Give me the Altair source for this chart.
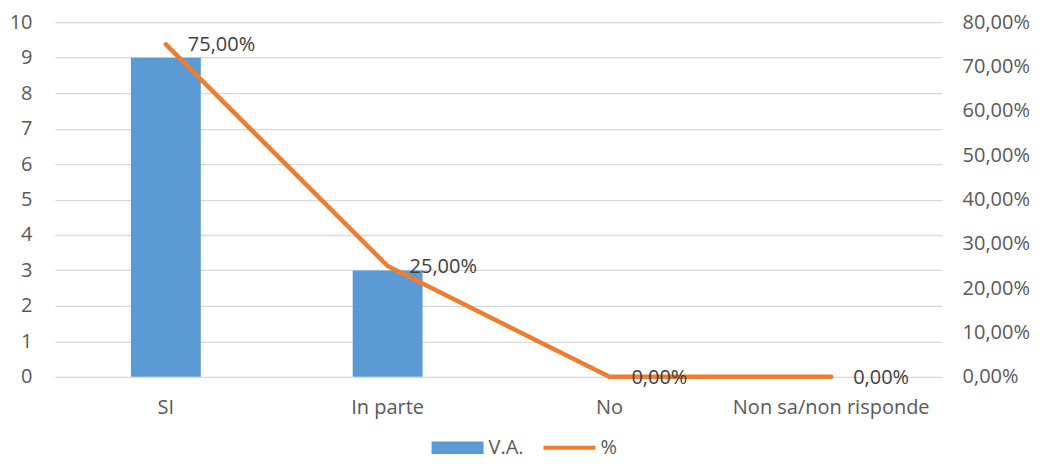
import altair as alt
import pandas as pd

categories = ["SI", "In parte", "No", "Non sa/non risponde"]
va_values = [9, 3, 0, 0]
pct_values = [0.75, 0.25, 0.0, 0.0]
left_ticks = list(range(0, 11))
right_ticks = [0.0, 0.1, 0.2, 0.3, 0.4, 0.5, 0.6, 0.7, 0.8]
series_names = ["V.A.", "%"]

BLUE = "#5B9BD5"
ORANGE = "#ED7D31"
TXT = "#595959"
FONT = "Open Sans"
FS = 20

df = pd.DataFrame({"cat": categories, "va": va_values, "pct": pct_values})

x_enc = alt.X(
    "cat:N",
    sort=categories,
    scale=alt.Scale(paddingInner=0.685, paddingOuter=0.3425),
    axis=alt.Axis(title=None, labelAngle=0, labelFontSize=FS, labelFont=FONT,
                  labelColor=TXT, ticks=False, domain=False, grid=False, labelPadding=21,
                  labelLimit=400),
)

y_left = alt.Y("va:Q", scale=alt.Scale(domain=[0, 10], nice=False),
               axis=alt.Axis(title=None, values=left_ticks, orient="left", grid=True,
                             gridColor="#D9D9D9", gridWidth=1.3, ticks=False, domain=False,
                             labelFontSize=FS, labelFont=FONT, labelColor=TXT,
                             labelPadding=23, labelOverlap=False))

y_right = alt.Y("pct:Q", scale=alt.Scale(domain=[0, 0.8], nice=False),
                axis=alt.Axis(title=None, values=right_ticks, orient="right", grid=False,
                              ticks=False, domain=False, labelFontSize=FS, labelFont=FONT,
                              labelColor=TXT, labelPadding=20, labelOverlap=False,
                              labelExpr="replace(format(datum.value, '.2%'), '.', ',')"))

base = alt.Chart(df)

bars = base.mark_bar(color=BLUE).encode(x=x_enc, y=y_left)

legend_props = dict(title=None, orient="none", legendX=377, legendY=400, direction="horizontal",
                    labelFontSize=FS, labelFont=FONT, labelColor=TXT, symbolSize=2704,
                    symbolOpacity=1, symbolStrokeWidth=0, labelOffset=5, columnPadding=19)

leg_points = base.transform_fold(["va", "pct"], as_=["key", "val"]).transform_calculate(
    serie="datum.key == 'va' ? 'V.A.' : '%'"
).mark_point(filled=True, opacity=0).encode(
    x=x_enc,
    y=y_left,
    color=alt.Color("serie:N", scale=alt.Scale(domain=series_names, range=[BLUE, ORANGE]),
                    legend=alt.Legend(**legend_props)),
    shape=alt.Shape("serie:N", scale=alt.Scale(domain=series_names,
                    range=["M-1,-0.24H1V0.24H-1Z", "M-1,-0.075H1V0.075H-1Z"]),
                    legend=alt.Legend(**legend_props)),
)

line = base.mark_line(color=ORANGE, strokeWidth=4.5, strokeCap="round",
                      strokeJoin="round").encode(x=x_enc, y=y_right)

labels = base.transform_calculate(
    lab="replace(format(datum.pct, '.2%'), '.', ',')"
).mark_text(align="left", baseline="middle", dx=22, dy=1, fontSize=FS, font=FONT,
            color="#404040").encode(
    x=x_enc,
    y=y_right,
    text="lab:N",
)

left = alt.layer(bars, leg_points)
right = alt.layer(line, labels)

chart = alt.layer(left, right).resolve_scale(y="independent").properties(
    width=888, height=355,
    background="white",
    padding={"left": 47, "top": 14, "right": 90, "bottom": 84},
    autosize=alt.AutoSizeParams(type="none"),
).configure_view(
    stroke="transparent", strokeWidth=0
).configure_axis(
    domain=False
)

chart.save("out.html", embed_options={"renderer": "svg", "actions": False})
